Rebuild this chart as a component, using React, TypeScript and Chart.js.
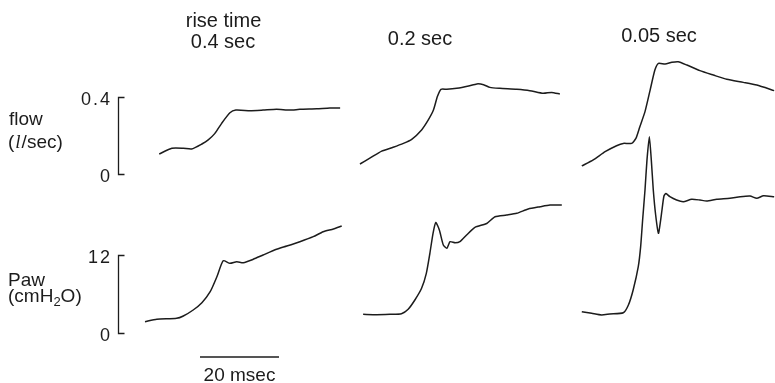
import React, { useEffect, useRef } from "react";
import { Chart, registerables } from "chart.js";
Chart.register(...registerables);

// ---- data (time in msec from start of each trace window) ----
const riseTimes = ["0.4 sec", "0.2 sec", "0.05 sec"];
const flowTicks = [0, 0.4];
const pawTicks = [0, 12];
const scaleBarMsec = 20;

// rise time 0.4 sec
const flow1T = [3.6, 6.8, 9.7, 11.8, 14.4, 16.0, 17.7, 19.4, 21.5, 23.0, 26.6, 29.9, 33.3, 36.7, 39.2, 43.5, 46.8, 49.4];
const flow1V = [0.104, 0.134, 0.134, 0.130, 0.156, 0.177, 0.211, 0.263, 0.318, 0.332, 0.329, 0.332, 0.336, 0.332, 0.336, 0.339, 0.343, 0.343];
const paw1T = [0, 3.0, 8.0, 9.7, 12.2, 14.4, 16.5, 18.2, 19.8, 21.5, 23.2, 24.9, 27.4, 29.9, 33.3, 35.9, 39.2, 42.6, 45.1, 47.7, 49.8];
const paw1P = [1.74, 2.11, 2.26, 2.62, 3.54, 4.66, 6.35, 8.66, 11.12, 10.72, 10.97, 10.82, 11.34, 12.0, 12.88, 13.38, 14.05, 14.82, 15.58, 16.0, 16.46];

// rise time 0.2 sec
const flow2T = [0.5, 3.0, 6.0, 8.9, 11.5, 13.6, 16.1, 17.8, 19.1, 20.1, 21.0, 22.5, 25.0, 28.0, 30.1, 31.8, 33.4, 35.9, 40.2, 43.5, 46.9, 49.0, 51.1];
const flow2V = [0.052, 0.082, 0.119, 0.139, 0.159, 0.180, 0.229, 0.281, 0.332, 0.402, 0.440, 0.440, 0.445, 0.457, 0.468, 0.464, 0.450, 0.445, 0.440, 0.433, 0.419, 0.424, 0.416];
const paw2T = [1.3, 4.7, 8.1, 11.0, 12.7, 14.4, 16.1, 17.3, 18.2, 19.0, 19.7, 20.6, 21.6, 22.5, 23.3, 24.6, 25.8, 27.5, 29.6, 32.6, 34.7, 37.6, 40.2, 43.1, 46.1, 48.6, 51.6];
const paw2P = [2.88, 2.82, 2.88, 2.97, 3.65, 5.08, 6.88, 9.18, 12.26, 15.34, 17.0, 15.85, 13.54, 13.03, 14.05, 13.89, 14.05, 15.08, 16.26, 16.85, 17.89, 18.15, 18.42, 19.08, 19.43, 19.69, 19.69];

// rise time 0.05 sec
const flow3T = [0.2, 3.1, 6.1, 9.0, 10.7, 12.8, 13.9, 14.9, 16.2, 17.5, 18.7, 19.6, 21.3, 23.0, 24.6, 26.8, 30.1, 33.5, 36.9, 41.1, 44.5, 48.9];
const flow3V = [0.042, 0.073, 0.116, 0.147, 0.159, 0.159, 0.185, 0.246, 0.324, 0.436, 0.540, 0.575, 0.571, 0.580, 0.583, 0.566, 0.537, 0.514, 0.492, 0.476, 0.462, 0.433];
const paw3T = [0.2, 2.7, 5.2, 7.3, 10.7, 12.0, 13.2, 14.5, 15.1, 15.6, 16.2, 16.7, 17.3, 17.8, 18.3, 18.9, 19.6, 20.1, 20.5, 21.0, 21.5, 22.5, 24.2, 25.9, 28.0, 30.1, 31.8, 34.4, 37.7, 40.3, 42.8, 44.5, 46.2, 48.9];
const paw3P = [3.28, 3.03, 2.77, 2.92, 3.12, 4.31, 6.62, 10.2, 13.28, 17.38, 22.0, 26.6, 30.2, 26.6, 22.0, 18.15, 15.34, 17.08, 18.92, 21.08, 21.46, 20.97, 20.46, 20.2, 20.57, 20.46, 20.31, 20.57, 20.72, 20.97, 21.08, 20.72, 21.12, 20.97];

// ---- layout ----
const W = 775;
const H = 383;
const PX_PER_MSEC = 3.95;
const panelOffset = [36.71, 90.63, 147.09]; // msec position of each panel on the figure's time axis
const scaleBarStart = 50.63; // msec
const INK = "#1c1c1c";
const FONT = "'Liberation Sans', Arial, sans-serif";

function series(t: number[], v: number[], off: number) {
  return t.map((x, i) => ({ x: x + off, y: v[i] }));
}

const decorations = {
  id: "decorations",
  afterDraw(chart: any) {
    const ctx = chart.ctx as CanvasRenderingContext2D;
    const xs = chart.scales.x;
    const yf = chart.scales.yFlow;
    const yp = chart.scales.yPaw;
    ctx.save();
    ctx.fillStyle = INK;
    ctx.strokeStyle = INK;
    ctx.textBaseline = "alphabetic";

    // titles
    ctx.font = `20px ${FONT}`;
    ctx.textAlign = "center";
    ctx.fillText("rise time", 223.5, 27);
    ctx.fillText(riseTimes[0], 223, 48);
    ctx.fillText(riseTimes[1], 420, 45);
    ctx.fillText(riseTimes[2], 659, 42);

    // bracket axes
    const bx = 118.5;
    const drawBracket = (scale: any, ticks: number[]) => {
      const yTop = Math.round(scale.getPixelForValue(ticks[1])) + 0.5;
      const yBot = Math.round(scale.getPixelForValue(ticks[0])) + 0.5;
      ctx.lineWidth = 1.3;
      ctx.beginPath();
      ctx.moveTo(bx + 6, yTop);
      ctx.lineTo(bx, yTop);
      ctx.lineTo(bx, yBot);
      ctx.lineTo(bx + 6, yBot);
      ctx.stroke();
      ctx.font = `18px ${FONT}`;
      ctx.textAlign = "right";
      (ctx as any).letterSpacing = "2px";
      ctx.fillText(String(ticks[1]), 112, yTop + 7);
      ctx.fillText(String(ticks[0]), 112, yBot + 7);
      (ctx as any).letterSpacing = "0px";
    };
    drawBracket(yf, flowTicks);
    drawBracket(yp, pawTicks);

    // axis titles
    ctx.textAlign = "left";
    ctx.font = `19px ${FONT}`;
    ctx.fillText("flow", 9, 125);
    let x = 8;
    ctx.fillText("(", x, 148);
    x += ctx.measureText("(").width + 1;
    ctx.font = `italic 19px 'Liberation Serif', serif`;
    ctx.fillText("l", x, 148);
    x += ctx.measureText("l").width + 1;
    ctx.font = `19px ${FONT}`;
    ctx.fillText("/sec)", x, 148);

    ctx.fillText("Paw", 8, 286);
    x = 8;
    ctx.fillText("(cmH", x, 302);
    x += ctx.measureText("(cmH").width;
    ctx.font = `13px ${FONT}`;
    ctx.fillText("2", x, 306);
    x += ctx.measureText("2").width;
    ctx.font = `19px ${FONT}`;
    ctx.fillText("O)", x, 302);

    // time scale bar
    const x0 = xs.getPixelForValue(scaleBarStart);
    const x1 = xs.getPixelForValue(scaleBarStart + scaleBarMsec);
    ctx.lineWidth = 1.3;
    ctx.beginPath();
    ctx.moveTo(x0, 357);
    ctx.lineTo(x1, 357);
    ctx.stroke();
    ctx.textAlign = "center";
    ctx.fillText(`${scaleBarMsec} msec`, (x0 + x1) / 2, 381);
    ctx.restore();
  },
};

export default function App() {
  const ref = useRef<HTMLCanvasElement | null>(null);
  useEffect(() => {
    if (!ref.current) return;
    const flowMin = (174 - H) / 192.5;
    const flowMax = 174 / 192.5;
    const pawMin = (333 - H) / 6.5;
    const pawMax = 333 / 6.5;
    const traces = [
      { t: flow1T, v: flow1V, p: 0, axis: "yFlow" },
      { t: paw1T, v: paw1P, p: 0, axis: "yPaw" },
      { t: flow2T, v: flow2V, p: 1, axis: "yFlow" },
      { t: paw2T, v: paw2P, p: 1, axis: "yPaw" },
      { t: flow3T, v: flow3V, p: 2, axis: "yFlow" },
      { t: paw3T, v: paw3P, p: 2, axis: "yPaw" },
    ];
    const chart = new Chart(ref.current, {
      type: "line",
      data: {
        datasets: traces.map((tr) => ({
          data: series(tr.t, tr.v, panelOffset[tr.p]),
          yAxisID: tr.axis,
          borderColor: INK,
          borderWidth: 1.5,
          pointRadius: 0,
          tension: 0.2,
          fill: false,
        })),
      },
      options: {
        animation: false,
        responsive: false,
        devicePixelRatio: 1,
        layout: { padding: 0 },
        plugins: { legend: { display: false }, tooltip: { enabled: false }, title: { display: false } },
        scales: {
          x: { type: "linear", min: 0, max: W / PX_PER_MSEC, display: false },
          yFlow: { type: "linear", position: "left", min: flowMin, max: flowMax, display: false },
          yPaw: { type: "linear", position: "left", min: pawMin, max: pawMax, display: false },
        },
      },
      plugins: [decorations],
    });
    return () => chart.destroy();
  }, []);
  return (
    <div style={{ position: "absolute", left: 0, top: 0, width: W, height: H, background: "#fff" }}>
      <canvas ref={ref} width={W} height={H} style={{ display: "block" }} />
    </div>
  );
}
